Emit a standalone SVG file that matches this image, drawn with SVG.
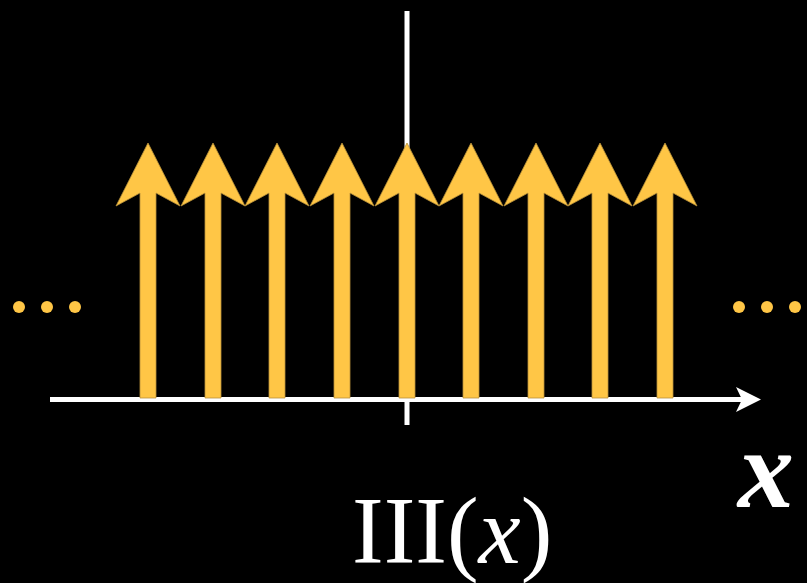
<svg xmlns="http://www.w3.org/2000/svg" xmlns:xlink="http://www.w3.org/1999/xlink" width="807" height="583" viewBox="0 0 807 583">
<style>
.ax{stroke:#fff;stroke-width:5;fill:none}
.spike{fill:#FFC646;stroke:#b8903a;stroke-width:0.8}
.dot{fill:#FFC646}
.lbl{fill:#fff;font-family:"Liberation Serif","Times New Roman",serif}
</style>
<defs>
<path id="spike" d="M0,143 L32,206 L8,193 L8,398 L-8,398 L-8,193 L-32,206 Z"/>
</defs>
<rect width="807" height="583" fill="#000"/>
<g id="axes">
<line class="ax" x1="407" y1="11" x2="407" y2="425"/>
<line class="ax" x1="50" y1="399.5" x2="742" y2="399.5"/>
<polygon fill="#fff" points="736,387 761,399.5 736,412 742,399.5"/>
</g>
<g id="spikes">
<use class="spike" xlink:href="#spike" x="148"/>
<use class="spike" xlink:href="#spike" x="213"/>
<use class="spike" xlink:href="#spike" x="277"/>
<use class="spike" xlink:href="#spike" x="342"/>
<use class="spike" xlink:href="#spike" x="407"/>
<use class="spike" xlink:href="#spike" x="471"/>
<use class="spike" xlink:href="#spike" x="536"/>
<use class="spike" xlink:href="#spike" x="600"/>
<use class="spike" xlink:href="#spike" x="665"/>
</g>
<g id="dots">
<circle class="dot" cx="19" cy="307" r="6"/>
<circle class="dot" cx="47" cy="307" r="6"/>
<circle class="dot" cx="75" cy="307" r="6"/>
<circle class="dot" cx="739" cy="307" r="6"/>
<circle class="dot" cx="767" cy="307" r="6"/>
<circle class="dot" cx="795" cy="307" r="6"/>
</g>
<text class="lbl" x="738" y="507" font-size="112" font-style="italic" font-weight="bold">x</text>
<text class="lbl" x="352" y="563" font-size="95">III(<tspan font-style="italic">x</tspan>)</text>
</svg>
